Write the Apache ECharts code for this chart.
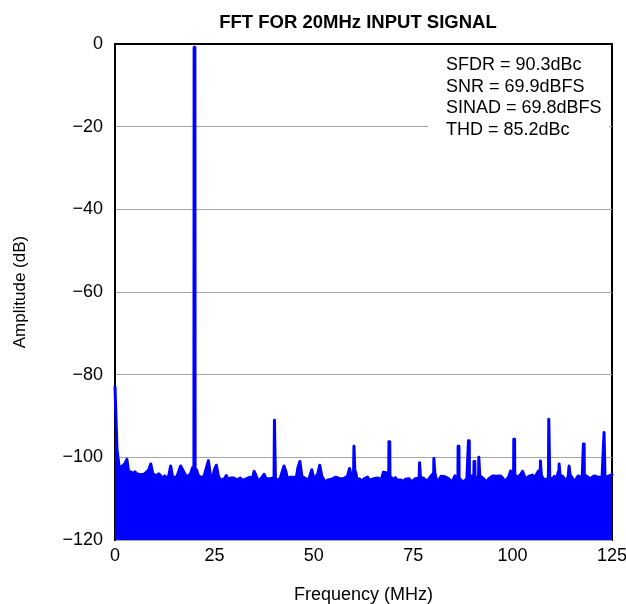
<!DOCTYPE html>
<html>
<head>
<meta charset="utf-8">
<script src="https://cdn.jsdelivr.net/npm/echarts@6/dist/echarts.min.js"></script>
<style>
  html, body { margin: 0; padding: 0; background: #fff; }
  #chart { width: 626px; height: 604px; }
</style>
</head>
<body>
<div id="chart"></div>
<script>
// noise floor, one bin every 0.5 MHz from 0 to 125 MHz (one row = 5 MHz)
var binStep = 0.5;
var noiseAmp = [
  -83, -98, -102, -102.5, -102, -101.5, -100.5, -104, -103.5, -104,
  -103.5, -104, -103.7, -104.2, -104.5, -104, -104.3, -103, -101.6, -104,
  -104.2, -104.5, -104, -104, -105, -104.5, -105, -104.5, -102.1, -104.8,
  -104.5, -104.8, -103.5, -102.1, -103, -103, -104.8, -105, -104, -102.5,
  -104, -103, -104.5, -104.8, -105, -104.2, -104, -100.8, -104.5, -105,
  -103, -101.9, -104.5, -105.5, -105.6, -105.2, -104.4, -105.5, -105, -105.3,
  -105, -105.5, -105.3, -105, -105.6, -105.8, -105.2, -105.5, -104.8, -105.4,
  -103.4, -104.5, -105.8, -105.4, -104.8, -104.1, -105.2, -105.5, -105.2, -105.6,
  -105, -105.5, -105.8, -105.2, -105.5, -102.1, -103.5, -105.6, -104.8, -104.5,
  -104.8, -105.5, -102.5, -101, -104.6, -104.7, -105.2, -105.8, -104.5, -103,
  -105.2, -105.6, -104, -101.9, -104.5, -105.4, -106, -105.5, -105.2, -105.3,
  -105, -104.8, -105.2, -105.1, -104.9, -105.2, -105, -104.5, -102.7, -104.8,
  -104, -103.5, -105.8, -105.2, -106, -105.3, -104.9, -104.8, -105.5, -105.8,
  -105.2, -105.6, -105, -104.8, -105.4, -103.6, -104, -103.8, -104.5, -104.2,
  -105.5, -104.9, -105.5, -105.8, -105.5, -106, -105.3, -105.6, -105.2, -106,
  -105.8, -105.2, -105.5, -105, -104.8, -105, -105.2, -105.8, -105.5, -104.5,
  -104.5, -103.8, -106, -105.4, -104.6, -104.4, -104.7, -104.8, -105.2, -106,
  -105.5, -104.5, -104.8, -105, -105.5, -106, -105.6, -105.2, -105, -104.5,
  -104.5, -104.5, -105.3, -104.5, -104.5, -105, -105.5, -106, -105.2, -104.8,
  -104.5, -104.3, -104.6, -104.2, -104.5, -105, -105.8, -105.5, -104.8, -103.3,
  -103.5, -104, -105, -104.8, -104.2, -103.4, -104.6, -105.2, -104.6, -105,
  -104.3, -105, -104.6, -103.3, -104.5, -104.8, -105.5, -105.2, -105, -105,
  -105.2, -104.6, -105.3, -103.5, -104.5, -104.5, -104.7, -105.8, -104.5, -104.2,
  -105, -106, -105.6, -104.5, -104.2, -105, -105, -104.5, -104.3, -105.2,
  -104.8, -104.5, -104.6, -104.8, -105.2, -104.8, -105, -104.7, -104.6, -104.2,
  -104.2
];
// discrete tones: fundamental, harmonics and spurs
var spikeFreq = [20.0, 40.2, 60.2, 69.0, 76.7, 80.3, 86.4, 89.0, 90.4, 91.6, 100.4, 107.1, 109.2, 111.8, 114.3, 117.9, 123.1];
var spikeAmp  = [-0.8, -91, -97.3, -96.2, -101.3, -100.3, -97.3, -96, -101, -100, -95.6, -100.9, -90.8, -101.6, -102.1, -96.8, -94];
var statLines = ['SFDR = 90.3dBc', 'SNR = 69.9dBFS', 'SINAD = 69.8dBFS', 'THD = 85.2dBc'];

var pts = noiseAmp.map(function (v, i) { return [i * binStep, v]; });
spikeFreq.forEach(function (f, k) {
  var floor = noiseAmp[Math.round(f / binStep)];
  pts.push([f - 0.15, floor], [f - 0.1, spikeAmp[k]], [f + 0.1, spikeAmp[k]], [f + 0.15, floor]);
});
pts.sort(function (a, b) { return a[0] - b[0]; });

var font = 'Liberation Sans, Arial, sans-serif';
function minus(v) { return String(v).replace('-', '\u2212'); }

var chart = echarts.init(document.getElementById('chart'));
chart.setOption({
  animation: false,
  title: {
    text: 'FFT FOR 20MHz INPUT SIGNAL',
    left: 353, top: 8, textAlign: 'center',
    textStyle: { fontFamily: font, fontSize: 18.5, fontWeight: 'bold', color: '#000' }
  },
  grid: {
    left: 115, right: 14, top: 44, bottom: 64, outerBoundsMode: 'none',
    show: true, borderColor: '#000', borderWidth: 2, backgroundColor: 'transparent'
  },
  xAxis: {
    type: 'value', min: 0, max: 125, interval: 25,
    name: 'Frequency (MHz)', nameLocation: 'middle', nameGap: 46,
    nameTextStyle: { fontFamily: font, fontSize: 18, color: '#000' },
    axisLine: { lineStyle: { color: '#000', width: 2 } },
    axisTick: { show: false },
    splitLine: { show: false },
    axisLabel: { fontFamily: font, fontSize: 18, color: '#000', margin: 7 }
  },
  yAxis: {
    type: 'value', min: -120, max: 0, interval: 20,
    name: 'Amplitude (dB)', nameLocation: 'middle', nameGap: 86, nameRotate: 90,
    nameTextStyle: { fontFamily: font, fontSize: 17, color: '#000' },
    axisLine: { lineStyle: { color: '#000', width: 2 } },
    axisTick: { show: false },
    splitLine: { lineStyle: { color: '#a6a6a6', width: 1 } },
    axisLabel: { fontFamily: font, fontSize: 18, color: '#000', margin: 12, formatter: minus }
  },
  graphic: [
    { type: 'rect', left: 428, top: 46, shape: { width: 181, height: 100 }, style: { fill: '#fff' }, z: 10 },
    { type: 'text', left: 446, top: 54, z: 11,
      style: { text: statLines.join('\n'), fontFamily: font, fontSize: 18, lineHeight: 21.7, fill: '#000' } }
  ],
  series: [{
    type: 'line', data: pts, showSymbol: false,
    lineStyle: { color: '#0000ff', width: 3, join: 'round', cap: 'round' },
    areaStyle: { color: '#0000ff', opacity: 1, origin: 'start' },
    z: 2
  }]
});
</script>
</body>
</html>
